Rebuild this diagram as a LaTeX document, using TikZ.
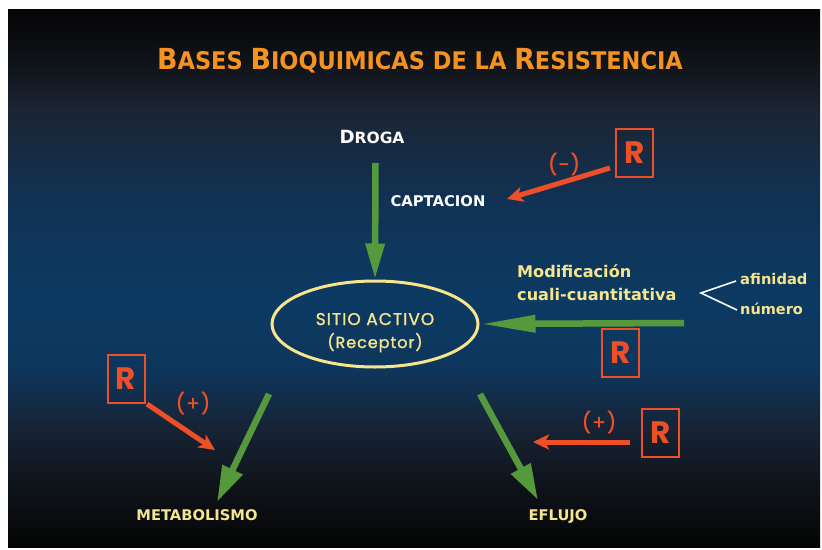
\documentclass[tikz,border=0pt]{standalone}
\usepackage{fontspec}
\setmainfont{DejaVu Sans}
\newfontfamily\titlefont{DejaVu Sans}[FakeStretch=0.925]
\newfontfamily\comicfont{Poppins}
\newfontfamily\comicbold{Poppins}[FakeBold=1.3, LetterSpace=6]
\usetikzlibrary{arrows.meta,shapes.geometric}

\definecolor{bgA}{RGB}{5,5,5}
\definecolor{bgB}{RGB}{14,18,24}
\definecolor{bgC}{RGB}{22,35,52}
\definecolor{bgD}{RGB}{14,54,92}
\definecolor{bgE}{RGB}{12,58,99}
\definecolor{bgF}{RGB}{17,50,84}
\definecolor{bgG}{RGB}{27,37,51}
\definecolor{bgH}{RGB}{15,18,23}
\definecolor{titleorange}{RGB}{245,146,32}
\definecolor{rred}{RGB}{239,79,38}
\definecolor{agreen}{RGB}{85,153,61}
\definecolor{pyellow}{RGB}{247,229,141}

\pgfdeclareverticalshading{slidebg}{100bp}{%
  color(0bp)=(bgA); color(25bp)=(bgA); color(30.3bp)=(bgB); color(35.9bp)=(bgC);
  color(41.5bp)=(bgD); color(48bp)=(bgE); color(57.3bp)=(bgF); color(65.6bp)=(bgG);
  color(70.3bp)=(bgH); color(75bp)=(bgA); color(100bp)=(bgA)}

\newcommand{\scword}[2]{{\fontsize{29}{29}\selectfont #1}{\fontsize{24.3}{24}\selectfont #2}}

\tikzset{
  greenarrow/.style={draw=agreen, line width=6.5pt},
  redarrow/.style={draw=rred, line width=5pt, -{Stealth[length=16pt,width=15pt,inset=4pt]}},
  rbox/.style={draw=rred, line width=2pt, minimum width=37pt, minimum height=48pt, inner sep=0pt,
    text=rred, font=\comicfont\bfseries\fontsize{31}{31}\selectfont},
  sign/.style={text=rred, font=\comicbold\fontsize{20}{20}\selectfont, inner sep=0pt},
  whitelabel/.style={text=white, font=\bfseries, inner sep=0pt},
  yellowlabel/.style={text=pyellow, font=\bfseries, inner sep=0pt},
  comiclabel/.style={text=pyellow, font=\comicbold\fontsize{17}{17}\selectfont, inner sep=0pt},
}

\begin{document}
\begin{tikzpicture}[x=1pt,y=-1pt]
\useasboundingbox (0,0) rectangle (822,549);
\fill[white] (0,0) rectangle (822,549);
\shade[shading=slidebg] (8,9) rectangle (820,547);

% title
\node[anchor=base, text=titleorange, font=\titlefont\bfseries\fontsize{24.3}{24}\selectfont, inner sep=0pt] (title) at (420,69.5)
  {\scword{B}{ASES} \scword{B}{IOQUIMICAS} \scword{}{DE LA} \scword{R}{ESISTENCIA}};

% labels
\node[whitelabel, anchor=base] (droga) at (372,143)
  {{\fontsize{18.2}{18}\selectfont D}{\fontsize{15.5}{15}\selectfont ROGA}};
\node[whitelabel, anchor=base, font=\bfseries\fontsize{14.8}{14}\selectfont] (capt) at (438,206) {CAPTACION};
\node[yellowlabel, anchor=base west, font=\bfseries\fontsize{16.1}{16}\selectfont] (mod1) at (517,277) {Modificación};
\node[yellowlabel, anchor=base west, font=\bfseries\fontsize{16.1}{16}\selectfont] (mod2) at (517,300) {cuali-cuantitativa};
\node[yellowlabel, anchor=base west, font=\bfseries\fontsize{14.7}{14}\selectfont] (afin) at (740,284) {afinidad};
\node[yellowlabel, anchor=base west, font=\bfseries\fontsize{14.5}{14}\selectfont] (num) at (740,314) {número};
\node[yellowlabel, anchor=base, font=\bfseries\fontsize{14.7}{14}\selectfont] (metab) at (197,520) {METABOLISMO};
\node[yellowlabel, anchor=base, font=\bfseries\fontsize{14.7}{14}\selectfont] (eflujo) at (558,520) {EFLUJO};

% brace lines
\coordinate (fork) at (701,293);
\coordinate (forka) at (736,281);
\coordinate (forkb) at (737,310);
\draw[white, line width=1.6pt] (forka) -- (fork) -- (forkb);

% ellipse
\node[ellipse, draw=pyellow, line width=3pt, minimum width=206pt, minimum height=86pt, inner sep=0pt] (ell) at (375,324) {};
\node[comiclabel, anchor=base] (sitio) at (375,325) {SITIO ACTIVO};
\node[comiclabel, anchor=base, font=\comicbold\fontsize{16}{16}\selectfont] (recep) at (375,348) {(Receptor)};

% R boxes
\node[rbox] (r1) at (634.5,153) {R};
\node[rbox] (r2) at (620.5,353) {R};
\node[rbox] (r3) at (126,379) {R};
\node[rbox] (r4) at (660.5,433) {R};

\node[sign] (s1) at (564,164) {(-)};
\node[sign] (s2) at (193,403) {(+)};
\node[sign] (s3) at (599,422) {(+)};

% green arrows
\coordinate (g1s) at (375.5,163);
\draw[greenarrow, -{Triangle[length=36pt,width=18pt]}] (g1s) -- (ell.north);
\coordinate (g2s) at (684,323);
\draw[greenarrow, -{Triangle[length=56pt,width=16pt]}] (g2s) -- (ell.east);
\coordinate (g3s) at (269,394);
\coordinate (g3e) at (217,502);
\draw[greenarrow, -{Triangle[length=36pt,width=21pt]}] (g3s) -- (g3e);
\coordinate (g4s) at (480,394);
\coordinate (g4e) at (538,500);
\draw[greenarrow, -{Triangle[length=36pt,width=21pt]}] (g4s) -- (g4e);

% red arrows
\coordinate (r1s) at (610,168);
\coordinate (r1e) at (507,199);
\draw[redarrow] (r1s) -- (r1e);
\coordinate (r3s) at (147,404);
\coordinate (r3e) at (215,450);
\draw[redarrow] (r3s) -- (r3e);
\coordinate (r4s) at (630,442);
\coordinate (r4e) at (533,442);
\draw[redarrow] (r4s) -- (r4e);
\end{tikzpicture}
\end{document}
